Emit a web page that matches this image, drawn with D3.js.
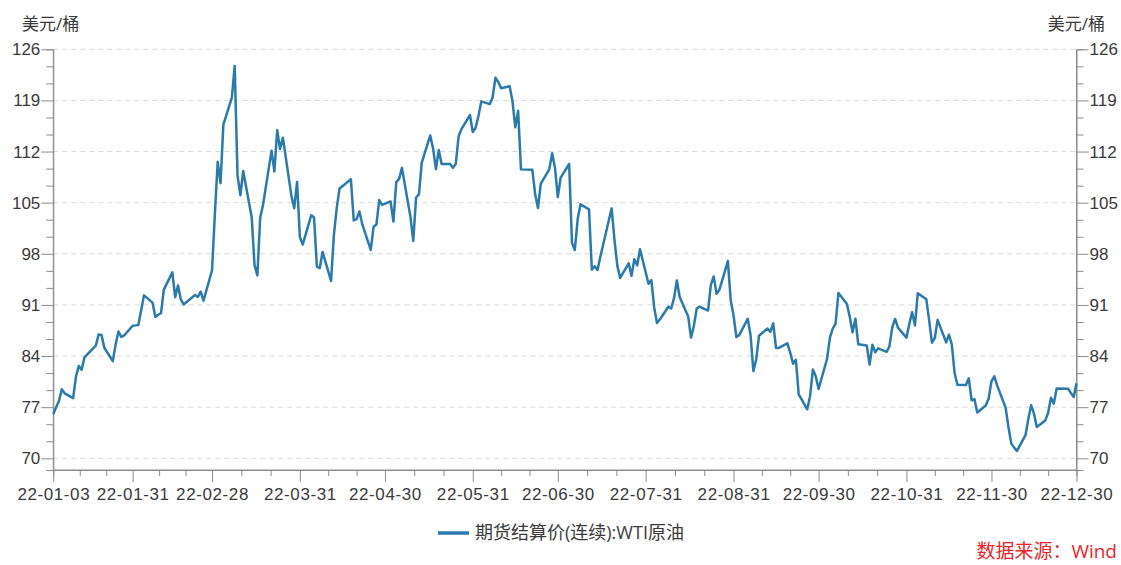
<!DOCTYPE html>
<html lang="zh">
<head>
<meta charset="UTF-8">
<script src="https://cdn.jsdelivr.net/npm/d3@7"></script>
<title>WTI原油 期货结算价</title>
<style>
    body { margin: 0; background: #fff; }
    svg { display: block; font-family: "Open Sans", "Noto Sans CJK SC", sans-serif; }
    .axis path, .axis line { stroke: #8c8c8c; }
    .axis text { fill: #3a3a3a; font-size: 17px; }
    .xaxis text { letter-spacing: 0.6px; }
    .grid line { stroke: #d9d9d9; stroke-dasharray: 5,4; }
</style>
</head>
<body>
<svg id="chart" width="1121" height="565"></svg>
<script>
    // trading days of 2022 (MM-DD) and WTI continuous settlement, USD/bbl
    const dates = [
        "01-03","01-04","01-05","01-06","01-07","01-10","01-11","01-12","01-13","01-14","01-18","01-19","01-20","01-21","01-24","01-25","01-26","01-27","01-28","01-31",
        "02-01","02-02","02-03","02-04","02-07","02-08","02-09","02-10","02-11","02-14","02-15","02-16","02-17","02-18","02-22","02-23","02-24","02-25","02-28",
        "03-01","03-02","03-03","03-04","03-07","03-08","03-09","03-10","03-11","03-14","03-15","03-16","03-17","03-18","03-21","03-22","03-23","03-24","03-25","03-28","03-29","03-30","03-31",
        "04-01","04-04","04-05","04-06","04-07","04-08","04-11","04-12","04-13","04-14","04-18","04-19","04-20","04-21","04-22","04-25","04-26","04-27","04-28","04-29",
        "05-02","05-03","05-04","05-05","05-06","05-09","05-10","05-11","05-12","05-13","05-16","05-17","05-18","05-19","05-20","05-23","05-24","05-25","05-26","05-27","05-30","05-31",
        "06-01","06-02","06-03","06-06","06-07","06-08","06-09","06-10","06-13","06-14","06-15","06-16","06-17","06-21","06-22","06-23","06-24","06-27","06-28","06-29","06-30",
        "07-01","07-04","07-05","07-06","07-07","07-08","07-11","07-12","07-13","07-14","07-15","07-18","07-19","07-20","07-21","07-22","07-25","07-26","07-27","07-28","07-29",
        "08-01","08-02","08-03","08-04","08-05","08-08","08-09","08-10","08-11","08-12","08-15","08-16","08-17","08-18","08-19","08-22","08-23","08-24","08-25","08-26","08-29","08-30","08-31",
        "09-01","09-02","09-05","09-06","09-07","09-08","09-09","09-12","09-13","09-14","09-15","09-16","09-19","09-20","09-21","09-22","09-23","09-26","09-27","09-28","09-29","09-30",
        "10-03","10-04","10-05","10-06","10-07","10-10","10-11","10-12","10-13","10-14","10-17","10-18","10-19","10-20","10-21","10-24","10-25","10-26","10-27","10-28","10-31",
        "11-01","11-02","11-03","11-04","11-07","11-08","11-09","11-10","11-11","11-14","11-15","11-16","11-17","11-18","11-21","11-22","11-23","11-24","11-25","11-28","11-29","11-30",
        "12-01","12-02","12-05","12-06","12-07","12-08","12-09","12-12","12-13","12-14","12-15","12-16","12-19","12-20","12-21","12-22","12-23","12-27","12-28","12-29","12-30"
    ];
    const prices = [
        76.08,76.99,77.85,79.46,78.90,78.23,81.22,82.64,82.12,83.82,85.43,86.96,86.90,85.14,83.31,85.60,87.35,86.61,86.82,88.15,
        88.20,88.26,90.27,92.31,91.32,89.36,89.66,89.88,93.10,95.46,92.07,93.66,91.76,91.07,92.35,92.10,92.81,91.59,95.72,
        103.41,110.60,107.67,115.68,119.40,123.70,108.70,106.02,109.33,103.01,96.44,95.04,102.98,104.70,112.12,109.27,114.93,112.34,113.90,105.96,104.24,107.82,100.28,
        99.27,103.28,102.96,96.23,96.03,98.26,94.29,100.60,104.25,106.95,108.21,102.56,102.75,103.79,102.07,98.54,101.70,102.02,105.36,104.69,
        105.17,102.41,107.81,108.26,109.77,103.09,99.76,105.71,106.13,110.49,114.20,112.40,109.59,112.21,110.28,110.29,109.77,110.33,114.09,115.07,117.00,114.67,
        115.26,116.87,118.87,118.50,119.41,122.11,121.51,120.67,120.93,118.93,115.31,117.59,109.56,109.52,106.19,104.27,107.62,109.57,111.76,109.78,105.76,
        108.43,110.30,99.50,98.53,102.73,104.79,104.09,95.84,96.30,95.78,97.59,102.60,104.22,99.88,96.35,94.70,96.70,94.98,97.26,96.42,98.62,
        93.89,94.42,90.66,88.54,89.01,90.76,90.50,91.93,94.34,92.09,89.41,86.53,88.11,90.50,90.77,90.23,93.74,94.89,92.52,93.06,97.01,91.64,89.55,
        86.61,86.87,89.10,86.88,81.94,83.54,86.79,87.78,87.31,88.48,85.10,85.11,85.73,84.45,82.94,83.49,78.74,76.71,78.50,82.15,81.23,79.49,
        83.63,86.52,87.76,88.45,92.64,91.13,89.35,87.27,89.11,85.61,85.46,82.82,85.55,84.51,85.05,84.58,85.32,87.91,89.08,87.90,86.53,
        88.37,90.00,88.17,92.61,91.79,88.91,85.83,86.47,88.96,85.87,86.92,85.59,81.64,80.08,80.04,80.95,77.94,78.10,76.28,77.24,78.20,80.55,
        81.22,79.98,76.93,74.25,72.01,71.46,71.02,73.17,75.39,77.28,76.11,74.29,75.19,76.23,78.29,77.49,79.56,79.53,78.96,78.40,80.26
    ];
    const tickDates = ["2022-01-03","2022-01-31","2022-02-28","2022-03-31","2022-04-30","2022-05-31",
        "2022-06-30","2022-07-31","2022-08-31","2022-09-30","2022-10-31","2022-11-30","2022-12-30"];
    const yTicks = [70, 77, 84, 91, 98, 105, 112, 119, 126];
    const unitLabel = "美元/桶";
    const seriesName = "期货结算价(连续):WTI原油";
    const sourceText = "数据来源：Wind";

    const parse = d3.timeParse("%Y-%m-%d");
    const data = dates.map((d, i) => ({ date: parse("2022-" + d), value: prices[i] }));
    const majorDates = tickDates.map(parse);

    const plotLeft = 53.3, plotRight = 1076.5, plotTop = 49.3, plotBottom = 470;
    const svg = d3.select("#chart");

    const x = d3.scaleTime()
        .domain([majorDates[0], majorDates[majorDates.length - 1]])
        .range([plotLeft, plotRight]);
    const y = d3.scaleLinear().domain([68.4, 126]).range([plotBottom, plotTop]);

    // minor ticks: thirds between labelled dates / y steps
    const minorDates = [];
    for (let i = 0; i < majorDates.length - 1; i++) {
        const a = +majorDates[i], b = +majorDates[i + 1];
        minorDates.push(new Date(a + (b - a) / 3), new Date(a + 2 * (b - a) / 3));
    }
    const yMinor = [];
    for (let i = 0; i < yTicks.length - 1; i++) {
        yMinor.push(yTicks[i] + 7 / 3, yTicks[i] + 14 / 3);
    }

    // grid
    svg.append("g").attr("class", "grid")
        .selectAll("line").data(yTicks).enter().append("line")
        .attr("x1", plotLeft).attr("x2", plotRight)
        .attr("y1", d => y(d)).attr("y2", d => y(d));

    // y axes
    svg.append("g").attr("class", "axis").attr("transform", `translate(${plotLeft},0)`)
        .call(d3.axisLeft(y).tickValues(yMinor).tickSize(7).tickFormat(""));
    svg.append("g").attr("class", "axis").attr("transform", `translate(${plotLeft},0)`)
        .call(d3.axisLeft(y).tickValues(yTicks).tickSize(12).tickPadding(1).tickFormat(d3.format("d")))
        .call(g => g.select(".domain").attr("d", `M0,${plotTop}V${plotBottom}`));
    svg.append("g").attr("class", "axis").attr("transform", `translate(${plotRight},0)`)
        .call(d3.axisRight(y).tickValues(yMinor).tickSize(7).tickFormat(""));
    svg.append("g").attr("class", "axis").attr("transform", `translate(${plotRight},0)`)
        .call(d3.axisRight(y).tickValues(yTicks).tickSize(12).tickPadding(1).tickFormat(d3.format("d")))
        .call(g => g.select(".domain").attr("d", `M0,${plotTop}V${plotBottom}`));

    // x axis
    svg.append("g").attr("class", "axis").attr("transform", `translate(0,${plotBottom})`)
        .call(d3.axisBottom(x).tickValues(minorDates).tickSize(6).tickFormat(""));
    svg.append("g").attr("class", "axis xaxis").attr("transform", `translate(0,${plotBottom})`)
        .call(d3.axisBottom(x).tickValues(majorDates).tickSize(12).tickPadding(6).tickFormat(d3.timeFormat("%y-%m-%d")))
        .call(g => g.select(".domain").attr("d", `M${plotLeft},0H${plotRight}`));

    // unit labels
    svg.append("text").attr("x", 22).attr("y", 30)
        .attr("font-size", 17).attr("fill", "#3a3a3a").text(unitLabel);
    svg.append("text").attr("x", 1105).attr("y", 30).attr("text-anchor", "end")
        .attr("font-size", 17).attr("fill", "#3a3a3a").text(unitLabel);

    // series
    const line = d3.line().x(d => x(d.date)).y(d => y(d.value));
    svg.append("path").datum(data)
        .attr("d", line)
        .attr("fill", "none")
        .attr("stroke", "#2a7aab")
        .attr("stroke-width", 2.5)
        .attr("stroke-linejoin", "round");

    // legend
    const lg = svg.append("g").attr("transform", "translate(438,533)");
    lg.append("line").attr("x1", 0).attr("x2", 31)
        .attr("stroke", "#2a7aab").attr("stroke-width", 3.5);
    lg.append("text").attr("x", 37).attr("y", 6)
        .attr("font-size", 18).attr("fill", "#3a3a3a").text(seriesName);

    // source
    svg.append("text").attr("x", 1117).attr("y", 558).attr("text-anchor", "end")
        .attr("font-size", 19).attr("fill", "#e8262a").text(sourceText);
</script>
</body>
</html>
